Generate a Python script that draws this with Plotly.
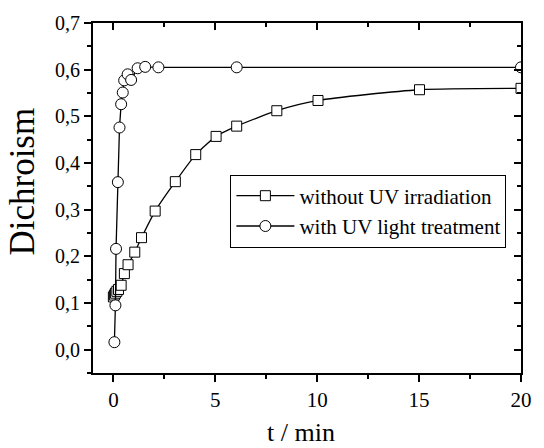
import plotly.graph_objects as go

# Data
t_without = [0.0, 0.05, 0.1, 0.17, 0.25, 0.38, 0.54, 0.72, 1.05, 1.38, 2.05, 3.04, 4.04, 5.04, 6.05, 8.02, 10.04, 15.02, 20.0]
d_without = [0.113, 0.117, 0.121, 0.125, 0.129, 0.138, 0.163, 0.182, 0.209, 0.240, 0.297, 0.360, 0.418, 0.457, 0.479, 0.512, 0.534, 0.557, 0.560]

t_with = [0.05, 0.1, 0.13, 0.22, 0.3, 0.38, 0.46, 0.53, 0.70, 0.87, 1.19, 1.56, 2.21, 6.05, 20.0]
d_with = [0.016, 0.095, 0.216, 0.359, 0.476, 0.526, 0.551, 0.577, 0.590, 0.578, 0.603, 0.606, 0.605, 0.605, 0.605]

name_without = "without UV irradiation"
name_with = "with UV light treatment"
x_title = "t / min"
y_title = "Dichroism"

x_range = [-1, 20]
y_range = [-0.05, 0.7]

FONT = "Liberation Serif, Times New Roman, Times, serif"

fig = go.Figure()
fig.add_trace(go.Scatter(
    x=t_without, y=d_without, name=name_without, mode="lines+markers",
    line=dict(color="black", width=1.3, shape="spline", smoothing=0.6),
    marker=dict(symbol="square", size=10, color="white", line=dict(color="black", width=1)),
))
fig.add_trace(go.Scatter(
    x=t_with, y=d_with, name=name_with, mode="lines+markers",
    line=dict(color="black", width=1.3),
    marker=dict(symbol="circle", size=11, color="white", line=dict(color="black", width=1)),
))
# empty trace to bring mirrored axes into existence
fig.add_trace(go.Scatter(x=[], y=[], xaxis="x2", yaxis="y2", showlegend=False, hoverinfo="skip"))

axis_common = dict(showgrid=False, zeroline=False, showline=True, linecolor="black", linewidth=2,
                   tickcolor="black", tickwidth=2, ticklen=7)

fig.update_layout(
    width=544, height=448,
    margin=dict(l=93, r=12, t=20, b=75),
    paper_bgcolor="white", plot_bgcolor="white",
    font=dict(family=FONT, size=21, color="black"),
    separators=",.",
    showlegend=True,
    legend=dict(x=0.321, y=0.567, xanchor="left", yanchor="top",
                bordercolor="black", borderwidth=1, bgcolor="white", itemwidth=58,
                font=dict(size=21, family=FONT, color="black"), tracegroupgap=0),
    xaxis=dict(range=x_range, tick0=0, dtick=5, ticks="outside",
               minor=dict(dtick=2.5, tick0=0, ticks="outside", ticklen=4, tickwidth=1.5, tickcolor="black"),
               tickfont=dict(size=21, family=FONT, color="black"), **axis_common),
    yaxis=dict(range=y_range, tick0=0, dtick=0.1, tickformat=".1f", ticks="outside",
               minor=dict(dtick=0.05, tick0=0, ticks="outside", ticklen=4, tickwidth=1.5, tickcolor="black"),
               tickfont=dict(size=20, family=FONT, color="black"), **axis_common),
    xaxis2=dict(range=x_range, overlaying="x", side="top", anchor="y2", tick0=0, dtick=5,
                ticks="inside", showticklabels=False,
                minor=dict(dtick=2.5, tick0=0, ticks="inside", ticklen=4, tickwidth=1.5, tickcolor="black"),
                **axis_common),
    yaxis2=dict(range=y_range, overlaying="y", side="right", anchor="x2", tick0=0, dtick=0.1,
                ticks="inside", showticklabels=False,
                minor=dict(dtick=0.05, tick0=0, ticks="inside", ticklen=4, tickwidth=1.5, tickcolor="black"),
                **axis_common),
    annotations=[
        dict(text=y_title, textangle=-90, xref="paper", yref="paper", x=0, y=0.547,
             xanchor="center", yanchor="middle", xshift=-70, showarrow=False,
             font=dict(size=35, family=FONT, color="black")),
        dict(text=x_title, xref="paper", yref="paper", x=0.487, y=0,
             xanchor="center", yanchor="middle", yshift=-59, showarrow=False,
             font=dict(size=26, family=FONT, color="black")),
    ],
)

fig.write_html("out.html")
